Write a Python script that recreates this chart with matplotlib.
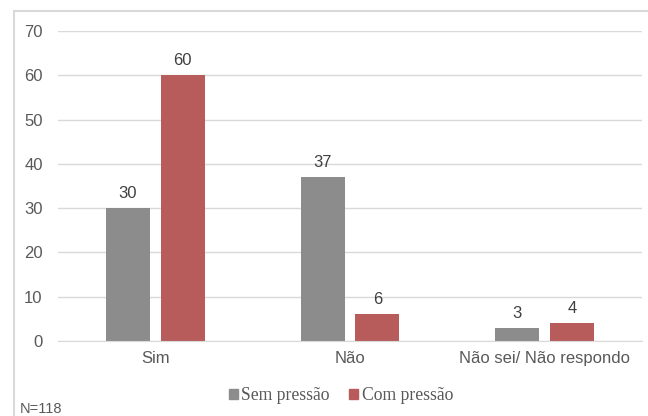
import matplotlib
matplotlib.use("Agg")
import matplotlib.pyplot as plt
import numpy as np
from matplotlib.patches import Rectangle
from matplotlib.lines import Line2D

categories = ["Sim", "Não", "Não sei/ Não respondo"]
sem_pressao = [30, 37, 3]
com_pressao = [60, 6, 4]
series_names = ["Sem pressão", "Com pressão"]
y_ticks = [0, 10, 20, 30, 40, 50, 60, 70]
note = "N=118"

gray = "#8C8C8C"
red = "#B75B5B"
text_col = "#595959"
grid_col = "#D9D9D9"

fig = plt.figure(figsize=(6.48, 4.16), dpi=100)
W, H = 648, 416
ax = fig.add_axes([58 / W, 1 - 341 / H, 584 / W, 310 / H])

x = np.arange(len(categories))
bw = 0.226
off = 0.141
b1 = ax.bar(x - off, sem_pressao, bw, color=gray)
b2 = ax.bar(x + off, com_pressao, bw, color=red)

for bars, vals in ((b1, sem_pressao), (b2, com_pressao)):
    for rect, v in zip(bars, vals):
        ax.annotate(str(v), (rect.get_x() + rect.get_width() / 2, v),
                    xytext=(0, 5), textcoords="offset points",
                    ha="center", va="bottom", fontsize=12,
                    family="Liberation Sans", color="#404040")

ax.set_xlim(-0.5, 2.5)
ax.set_ylim(0, 70)
ax.set_yticks(y_ticks)
ax.set_xticks(x)
ax.set_xticklabels(categories)
ax.yaxis.grid(True, color=grid_col, linewidth=1)
ax.set_axisbelow(True)
for s in ["top", "right", "left"]:
    ax.spines[s].set_visible(False)
ax.spines["bottom"].set_color(grid_col)
ax.tick_params(axis="both", length=0, labelsize=12, colors=text_col, pad=7)
ax.tick_params(axis="y", pad=11)
for lab in ax.get_xticklabels() + ax.get_yticklabels():
    lab.set_family("Liberation Sans")

# outer chart frame
fig.add_artist(Line2D([14 / W, 14 / W], [0, 1 - 11 / H], transform=fig.transFigure,
                      color=grid_col, linewidth=1.5))
fig.add_artist(Line2D([14 / W, 1], [1 - 11 / H, 1 - 11 / H], transform=fig.transFigure,
                      color=grid_col, linewidth=1.5))

handles = [Rectangle((0, 0), 1, 1, color=gray), Rectangle((0, 0), 1, 1, color=red)]
leg = fig.legend(handles, series_names, loc="center", bbox_to_anchor=(341 / W, 1 - 396 / H),
                 ncol=2, frameon=False, handlelength=0.5, handleheight=0.5,
                 handletextpad=0.2, columnspacing=1.1,
                 prop={"family": "Liberation Serif", "size": 12.7})
for t in leg.get_texts():
    t.set_color(text_col)

fig.text(20 / W, 1 - 409 / H, note, fontsize=10.5, family="Liberation Sans",
         color=text_col, va="center", ha="left")

fig.savefig("out.png", dpi=100)
